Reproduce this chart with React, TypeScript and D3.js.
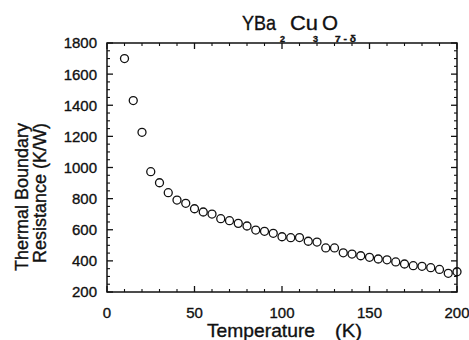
import React from "react";
import * as d3 from "d3";

const temperature = [
  10, 15, 20, 25, 30, 35, 40, 45, 50, 55, 60, 65, 70, 75, 80, 85, 90, 95, 100,
  105, 110, 115, 120, 125, 130, 135, 140, 145, 150, 155, 160, 165, 170, 175,
  180, 185, 190, 195, 200,
];
const resistance = [
  1700, 1430, 1226, 973, 902, 838, 791, 770, 735, 714, 701, 671, 658, 641, 624,
  598, 590, 577, 555, 549, 550, 526, 521, 483, 483, 452, 444, 433, 423, 412,
  407, 393, 380, 369, 365, 356, 345, 320, 330,
];
const xTicks = [0, 50, 100, 150, 200];
const yTicks = [200, 400, 600, 800, 1000, 1200, 1400, 1600, 1800];

const width = 469;
const height = 340;
const margin = { top: 43, right: 12, bottom: 48, left: 107 };
const font = "'Liberation Sans', Arial, sans-serif";
const ink = "#111";

const App = () => {
  const x = d3.scaleLinear().domain([0, 200]).range([margin.left, width - margin.right]);
  const y = d3.scaleLinear().domain([200, 1800]).range([height - margin.bottom, margin.top]);

  const [x0, x1] = x.range();
  const [y0, y1] = y.range(); // y0 bottom, y1 top

  const xMinor = d3.range(0, 201, 10).filter((d) => d % 50 !== 0);
  const yMinor = d3.range(200, 1801, 50).filter((d) => d % 200 !== 0);
  const majorLen = 6;
  const minorLen = 3;

  const pts = temperature.map((t, i) => ({ t, r: resistance[i] }));

  // slight stroke to get the heavier look of the printed text
  const txt = { fontFamily: font, fill: ink, stroke: ink, strokeWidth: 0.35 };

  return (
    <svg
      width={width}
      height={height}
      style={{ position: "absolute", left: 0, top: 0, background: "#fff" }}
    >
      {/* frame */}
      <rect x={x0} y={y1} width={x1 - x0} height={y0 - y1} fill="none" stroke={ink} strokeWidth={1.5} />

      {/* x ticks, bottom and top */}
      {xTicks.map((d) => (
        <g key={"xM" + d} stroke={ink} strokeWidth={1.3}>
          <line x1={x(d)} x2={x(d)} y1={y0} y2={y0 - majorLen} />
          <line x1={x(d)} x2={x(d)} y1={y1} y2={y1 + majorLen} />
        </g>
      ))}
      {xMinor.map((d) => (
        <g key={"xm" + d} stroke={ink} strokeWidth={1.1}>
          <line x1={x(d)} x2={x(d)} y1={y0} y2={y0 - minorLen} />
          <line x1={x(d)} x2={x(d)} y1={y1} y2={y1 + minorLen} />
        </g>
      ))}

      {/* y ticks, left and right */}
      {yTicks.map((d) => (
        <g key={"yM" + d} stroke={ink} strokeWidth={1.3}>
          <line x1={x0} x2={x0 + majorLen} y1={y(d)} y2={y(d)} />
          <line x1={x1} x2={x1 - majorLen} y1={y(d)} y2={y(d)} />
        </g>
      ))}
      {yMinor.map((d) => (
        <g key={"ym" + d} stroke={ink} strokeWidth={1.1}>
          <line x1={x0} x2={x0 + minorLen} y1={y(d)} y2={y(d)} />
          <line x1={x1} x2={x1 - minorLen} y1={y(d)} y2={y(d)} />
        </g>
      ))}

      {/* tick labels */}
      {yTicks.map((d) => (
        <text key={"yl" + d} x={x0 - 10} y={y(d)} dy="0.36em" textAnchor="end" fontSize={15} {...txt}>
          {d}
        </text>
      ))}
      {xTicks.map((d) => (
        <text key={"xl" + d} x={x(d)} y={y0 + 26} textAnchor="middle" fontSize={15} {...txt}>
          {d}
        </text>
      ))}

      {/* data */}
      {pts.map((p, i) => (
        <circle key={i} cx={x(p.t)} cy={y(p.r)} r={4} fill="none" stroke={ink} strokeWidth={1.3} />
      ))}

      {/* axis titles */}
      <text x={207} y={337} fontSize={19} textLength={108} lengthAdjust="spacingAndGlyphs" {...txt}>
        Temperature
      </text>
      <text x={335} y={337} fontSize={19} textLength={27} lengthAdjust="spacingAndGlyphs" {...txt}>
        (K)
      </text>
      <g transform="translate(28,197) rotate(-90)">
        <text textAnchor="middle" fontSize={18} {...txt}>
          Thermal Boundary
        </text>
      </g>
      <g transform="translate(46,193) rotate(-90)">
        <text textAnchor="middle" fontSize={18} {...txt}>
          Resistance (K/W)
        </text>
      </g>

      {/* title YBa2Cu3O7-δ */}
      <g>
        <text x={242} y={30} fontSize={21} textLength={34} lengthAdjust="spacingAndGlyphs" {...txt}>YBa</text>
        <text x={280} y={42} fontSize={9} fontWeight="bold" {...txt}>2</text>
        <text x={290} y={30} fontSize={21} textLength={28} lengthAdjust="spacingAndGlyphs" {...txt}>Cu</text>
        <text x={313} y={42} fontSize={9} fontWeight="bold" {...txt}>3</text>
        <text x={322} y={30} fontSize={21} textLength={16} lengthAdjust="spacingAndGlyphs" {...txt}>O</text>
        <text x={335} y={42} fontSize={9} fontWeight="bold" textLength={21} lengthAdjust="spacingAndGlyphs" {...txt}>7 - δ</text>
      </g>
    </svg>
  );
};

export default App;
